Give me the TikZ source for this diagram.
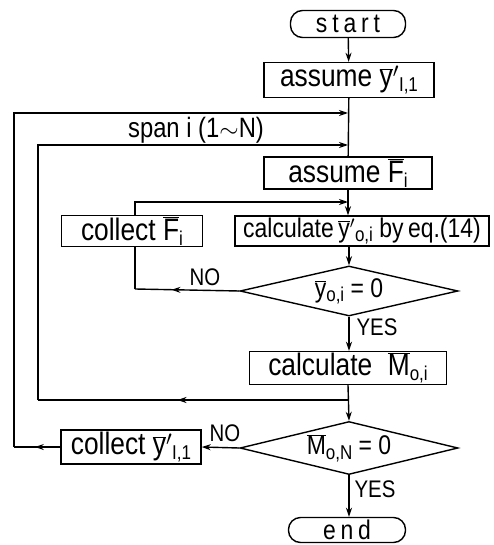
\documentclass[tikz,border=0pt]{standalone}
\usepackage{fontspec}
\setmainfont{Liberation Sans}[FakeStretch=0.85]
\usetikzlibrary{shapes.geometric,arrows.meta,decorations.markings}
\newcommand{\ovl}[1]{$\overline{\mbox{#1}}$}
\newcommand{\sbs}[1]{\raisebox{-0.3ex}{\fontsize{20}{20}\selectfont #1}}
\newcommand{\spc}[1]{{\addfontfeature{LetterSpace=18}#1}}
\begin{document}
\begin{tikzpicture}[x=1pt,y=1pt,
  line width=1.4pt,
  every node/.style={font=\fontsize{31}{33}\selectfont},
  tip/.style={-{Stealth[length=9pt,width=6pt]}},
  midarrow/.style={postaction={decorate},decoration={markings,mark=at position #1 with {\arrow{Stealth[length=9pt,width=6pt]}}}},
  procbox/.style={draw,rectangle,inner sep=0pt},
  term/.style={draw,rounded corners=12pt,inner sep=0pt,font=\fontsize{27}{29}\selectfont},
  decision/.style={draw,diamond,aspect=4,inner sep=0pt,font=\fontsize{27}{29}\selectfont},
  lbl/.style={font=\fontsize{24}{26}\selectfont,inner sep=0pt}]
\useasboundingbox (0,0) rectangle (493,-545);
% nodes
\node[term,minimum width=115,minimum height=27] (start) at (348,-24) {\spc{start}};
\node[procbox,minimum width=170,minimum height=35] (a1) at (349,-80) {assume \ovl{y}$'$\sbs{I,1}};
\node[procbox,minimum width=168,minimum height=32] (aF) at (348,-173) {assume \ovl{F}\sbs{i}};
\node[procbox,minimum width=141,minimum height=31] (cF) at (132,-231) {collect \ovl{F}\sbs{i}};
\node[procbox,minimum width=254,minimum height=30,font=\fontsize{27}{29}\selectfont] (calc) at (362,-231) {calculate\,\ovl{y}$'$\sbs{o,i} by\,eq.(14)};
\node[decision,minimum width=218,minimum height=50] (d1) at (349,-291) {\ovl{y}\sbs{o,i} = 0};
\node[procbox,minimum width=197,minimum height=33] (cM) at (348,-368) {calculate\enspace\ovl{M}\sbs{o,i}};
\node[decision,minimum width=218,minimum height=53] (d2) at (349,-448) {\ovl{M}\sbs{o,N} = 0};
\node[procbox,minimum width=140,minimum height=34] (cY) at (131,-447) {collect \ovl{y}$'$\sbs{I,1}};
\node[term,minimum width=117,minimum height=25] (end) at (347,-530) {\spc{end}};
% labels
\node[lbl] (no1) at (205,-277) {NO};
\node[lbl] (no2) at (225,-433) {NO};
\node[lbl] (yes1) at (377,-327) {YES};
\node[lbl] (yes2) at (375,-489) {YES};
\node[lbl,font=\fontsize{28}{30}\selectfont] (span) at (196,-130) {span i (1$\sim$N)};
% coordinates
\coordinate (jo) at (348,-113);
\coordinate (ji) at (348,-145);
\coordinate (jf) at (348,-202);
\coordinate (jr) at (348,-400);
\coordinate (lo) at (14,-113);
\coordinate (lob) at (14,-447);
\coordinate (li) at (38,-145);
\coordinate (lib) at (38,-400);
\coordinate (cft) at (135,-202);
\coordinate (cfb) at (135,-289);
% connectors
\draw[tip] (start) -- (a1);
\draw (a1) -- (aF);
\draw[tip] (aF.south -| jf) -- (calc.north -| jf);
\draw[tip] (cF.north -| cft) -- (cft) -- (jf);
\draw[tip] (calc.south -| d1) -- (d1.north);
\draw[midarrow=0.65] (d1.west) -- (cfb);
\draw (cfb) -- (cF.south -| cfb);
\draw[tip] (d1.south) -- (cM.north -| d1);
\draw[tip] (cM.south -| jr) -- (d2.north);
\draw[midarrow=0.55] (jr) -- (lib);
\draw[tip] (lib) -- (li) -- (ji);
\draw[tip] (d2.west) -- (cY.east);
\draw[midarrow=0.55] (cY.west) -- (lob);
\draw[tip] (lob) -- (lo) -- (jo);
\draw[tip] (d2.south) -- (end.north -| d2);
\end{tikzpicture}
\end{document}
